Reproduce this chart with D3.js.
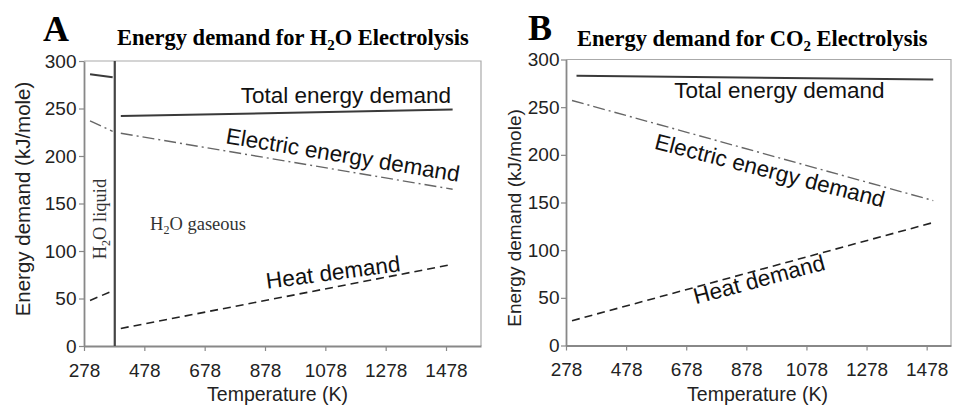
<!DOCTYPE html>
<html>
<head>
<meta charset="utf-8">
<script src="https://cdn.jsdelivr.net/npm/d3@7"></script>
<style>
  body { margin: 0; background: #fff; }
  svg { display: block; }
</style>
</head>
<body>
<svg id="chart" width="953" height="407"></svg>
<script>
// Axis ticks
const temperatureTicks = [278, 478, 678, 878, 1078, 1278, 1478];
const energyTicks = [0, 50, 100, 150, 200, 250, 300];

// H2O electrolysis, liquid water (kJ/mole)
const h2oLiquidTemp = [298, 373];
const h2oLiquidTotal = [286, 283];
const h2oLiquidElectric = [237, 226];
const h2oLiquidHeat = [48, 58];
const h2oBoilingMarker = 380;

// H2O electrolysis, steam (kJ/mole)
const h2oGasTemp = [400, 1500];
const h2oGasTotal = [242, 249];
const h2oGasElectric = [224, 165];
const h2oGasHeat = [18.5, 86];

// CO2 electrolysis (kJ/mole)
const co2TotalTemp = [313, 1500];
const co2Total = [283, 279];
const co2Temp = [298, 1500];
const co2Electric = [257, 152];
const co2Heat = [26, 129];

const svg = d3.select("#chart");
const SANS = "'Liberation Sans', Arial, sans-serif";
const SERIF = "'Liberation Serif', 'Times New Roman', serif";

const styles = {
  total:    { stroke: "#3a3a3a", width: 2,   dash: null },
  electric: { stroke: "#666",    width: 1.4, dash: "12,4,2,4" },
  heat:     { stroke: "#222",    width: 1.6, dash: "8,5" }
};

function panel(cfg) {
  const g = svg.append("g");
  const x = d3.scaleLinear().domain(cfg.xDomain).range([cfg.left, cfg.right]);
  const y = d3.scaleLinear().domain([0, 300]).range([cfg.bottom, cfg.top]);

  // plot-area border (top and right)
  g.append("path")
    .attr("d", `M${cfg.left},${cfg.top}H${cfg.right}V${cfg.bottom}`)
    .attr("fill", "none").attr("stroke", "#aaa").attr("stroke-width", 1.2);

  const xAxis = g.append("g")
    .attr("transform", `translate(0,${cfg.bottom})`)
    .call(d3.axisBottom(x).tickValues(temperatureTicks).tickFormat(d3.format("d"))
      .tickSize(5).tickSizeOuter(0).tickPadding(12.5));
  const yAxis = g.append("g")
    .attr("transform", `translate(${cfg.left},0)`)
    .call(d3.axisLeft(y).tickValues(energyTicks).tickFormat(d3.format("d"))
      .tickSize(5).tickSizeOuter(0).tickPadding(cfg.yPad));

  [xAxis, yAxis].forEach(a => {
    a.select(".domain").attr("stroke", "#888").attr("stroke-width", 1.8);
    a.selectAll(".tick line").attr("stroke", "#888").attr("stroke-width", 1.2);
    a.selectAll(".tick text").attr("fill", "#222")
      .style("font-family", SANS).style("font-size", "19px");
  });

  g.append("text")
    .attr("x", (cfg.left + cfg.right) / 2 + cfg.xTitleShift).attr("y", 401)
    .attr("text-anchor", "middle").attr("fill", "#222")
    .style("font-family", SANS).style("font-size", "19.5px")
    .text("Temperature (K)");

  g.append("text")
    .attr("transform", `translate(${cfg.yTitleX},${cfg.yTitleY}) rotate(-90)`)
    .attr("text-anchor", "middle").attr("dy", "0.35em").attr("fill", "#222")
    .style("font-family", SANS).style("font-size", cfg.yTitleSize + "px")
    .text("Energy demand (kJ/mole)");

  // panel letter and title
  g.append("text")
    .attr("x", cfg.letterX).attr("y", cfg.letterY)
    .style("font-family", SERIF).style("font-weight", "bold").style("font-size", "36px")
    .text(cfg.letter);
  const t = g.append("text")
    .attr("x", cfg.titleX).attr("y", cfg.titleY)
    .style("font-family", SERIF).style("font-weight", "bold").style("font-size", "22.5px");
  t.append("tspan").text(cfg.titleParts[0]);
  t.append("tspan").attr("dy", 5).style("font-size", "15px").text(cfg.titleParts[1]);
  t.append("tspan").attr("dy", -5).text(cfg.titleParts[2]);

  const line = d3.line().x(d => x(d[0])).y(d => y(d[1]));
  function series(temps, vals, style) {
    g.append("path")
      .datum(temps.map((tv, i) => [tv, vals[i]]))
      .attr("d", line)
      .attr("fill", "none")
      .attr("stroke", style.stroke)
      .attr("stroke-width", style.width)
      .attr("stroke-dasharray", style.dash);
  }

  function label(text, tv, v, angle) {
    g.append("text")
      .attr("transform", `translate(${x(tv)},${y(v)}) rotate(${angle})`)
      .attr("text-anchor", "middle").attr("fill", "#111")
      .style("font-family", SANS).style("font-size", "22.5px")
      .text(text);
  }

  return { g, x, y, series, label };
}

// ---- Panel A: H2O electrolysis ----
const A = panel({
  left: 84, right: 481, top: 61, bottom: 346, xDomain: [278, 1594], yPad: 2.5,
  xTitleShift: -5, yTitleX: 23, yTitleY: 199, yTitleSize: 20.5,
  letter: "A", letterX: 43, letterY: 41,
  titleX: 117, titleY: 45, titleParts: ["Energy demand for H", "2", "O Electrolysis"]
});

A.g.append("line")
  .attr("x1", A.x(h2oBoilingMarker)).attr("x2", A.x(h2oBoilingMarker))
  .attr("y1", A.y(300)).attr("y2", A.y(0))
  .attr("stroke", "#444").attr("stroke-width", 2.2);

A.series(h2oLiquidTemp, h2oLiquidTotal, styles.total);
A.series(h2oLiquidTemp, h2oLiquidElectric, styles.electric);
A.series(h2oLiquidTemp, h2oLiquidHeat, styles.heat);
A.series(h2oGasTemp, h2oGasTotal, styles.total);
A.series(h2oGasTemp, h2oGasElectric, styles.electric);
A.series(h2oGasTemp, h2oGasHeat, styles.heat);

A.label("Total energy demand", 1146, 255.8, 0);
A.label("Electric energy demand", 1132, 193.2, 9.4);
A.label("Heat demand", 1107, 69.5, -7.5);

// phase annotations
const gas = A.g.append("text")
  .attr("x", A.x(497)).attr("y", A.y(122)).attr("fill", "#333")
  .style("font-family", SERIF).style("font-size", "18.5px");
gas.append("tspan").text("H");
gas.append("tspan").attr("dy", 4).style("font-size", "12px").text("2");
gas.append("tspan").attr("dy", -4).text("O gaseous");

const liq = A.g.append("text")
  .attr("transform", `translate(105.5,219) rotate(-90)`)
  .attr("text-anchor", "middle").attr("fill", "#333")
  .style("font-family", SERIF).style("font-size", "18.5px");
liq.append("tspan").text("H");
liq.append("tspan").attr("dy", 4).style("font-size", "12px").text("2");
liq.append("tspan").attr("dy", -4).text("O liquid");

// ---- Panel B: CO2 electrolysis ----
const B = panel({
  left: 566, right: 951, top: 59.5, bottom: 345.5, xDomain: [278, 1559], yPad: 1.5,
  xTitleShift: -1, yTitleX: 514, yTitleY: 218, yTitleSize: 19,
  letter: "B", letterX: 528, letterY: 39.5,
  titleX: 577, titleY: 46, titleParts: ["Energy demand for CO", "2", " Electrolysis"]
});

B.series(co2TotalTemp, co2Total, styles.total);
B.series(co2Temp, co2Electric, styles.electric);
B.series(co2Temp, co2Heat, styles.heat);

B.label("Total energy demand", 988, 259.3, 0);
B.label("Electric energy demand", 950, 175.7, 14.4);
B.label("Heat demand", 927, 61.5, -15);
</script>
</body>
</html>
